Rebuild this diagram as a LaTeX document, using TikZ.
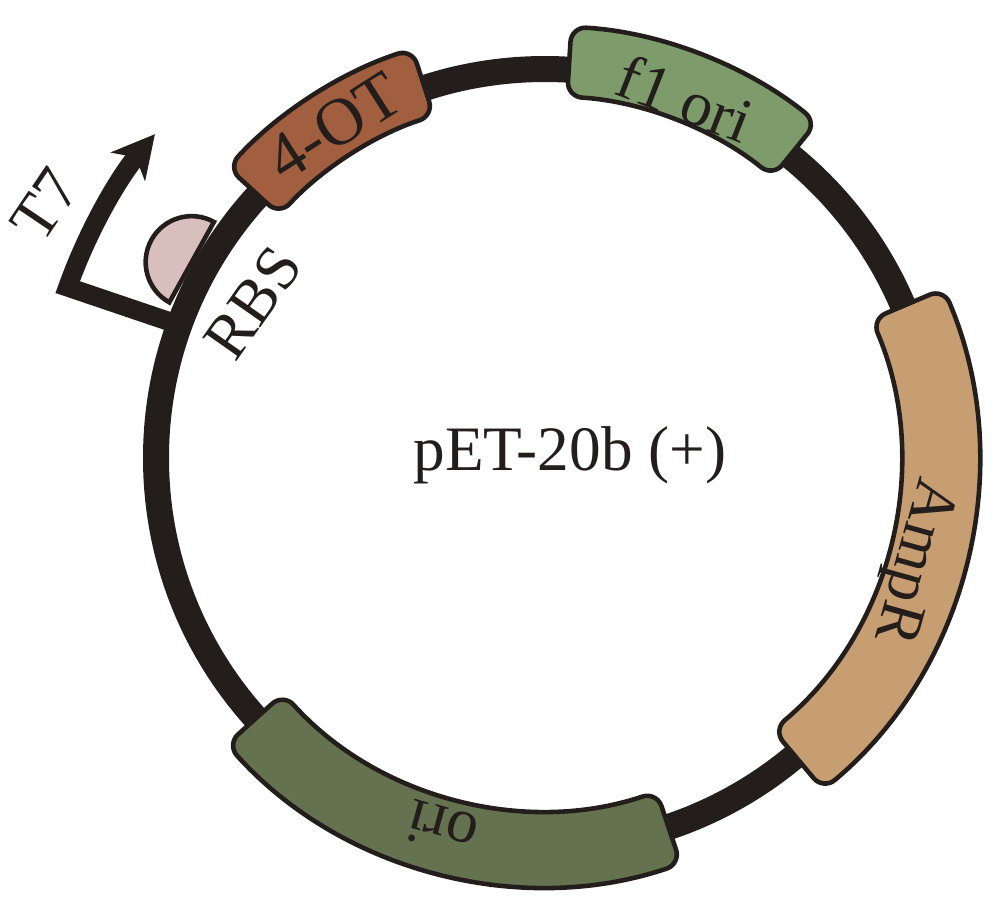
\documentclass[tikz,border=0pt]{standalone}
\usepackage{fontspec}
\setmainfont{Liberation Serif}
\usetikzlibrary{arrows.meta}

\definecolor{ringblack}{RGB}{35,30,28}
\definecolor{otbrown}{RGB}{161,95,64}
\definecolor{origreen}{RGB}{126,156,107}
\definecolor{amprtan}{RGB}{198,158,114}
\definecolor{oridark}{RGB}{101,114,79}
\definecolor{rbspink}{RGB}{216,190,188}

\begin{document}
\begin{tikzpicture}

    \tikzstyle{ring} = [line width=0.26cm, draw=ringblack]
    \tikzstyle{gene} = [draw=ringblack, line width=1.3pt, rounded corners=0.15cm]
    \tikzstyle{site} = [draw=ringblack, line width=1.3pt]
    \tikzstyle{promoter} = [line width=0.19cm, draw=ringblack, -{Stealth[length=0.42cm, width=0.44cm, inset=0.12cm]}]
    \tikzstyle{genetext} = [font=\fontsize{18}{21}\selectfont, text=ringblack, inner sep=0pt]

    \useasboundingbox (-5.45,-4.62) rectangle (4.55,4.58);

    \draw[site, fill=rbspink] (151:4.04) ++(61:0.46) arc[start angle=61, end angle=241, radius=0.46] -- cycle;

    \draw[ring] (0,0) circle (3.89);

    \draw[gene, fill=otbrown] (108:3.60) arc[start angle=108, end angle=137.5, radius=3.60] -- (137.5:4.30) arc[start angle=137.5, end angle=108, radius=4.30] -- cycle;
    \draw[gene, fill=origreen] (51:3.62) arc[start angle=51, end angle=86.5, radius=3.62] -- (86.5:4.32) arc[start angle=86.5, end angle=51, radius=4.32] -- cycle;
    \draw[gene, fill=amprtan] (-50:3.55) arc[start angle=-50, end angle=23, radius=3.55] -- (23:4.33) arc[start angle=23, end angle=-50, radius=4.33] -- cycle;
    \draw[gene, fill=oridark] (222:3.52) arc[start angle=222, end angle=288.5, radius=3.52] -- (288.5:4.28) arc[start angle=288.5, end angle=222, radius=4.28] -- cycle;

    \coordinate (t7base) at (160:3.89);
    \coordinate (t7bend) at (160.3:5.07);
    \draw[promoter] (t7base) -- (t7bend) arc[start angle=160.3, end angle=140.3, radius=5.07];

    \node[genetext, font=\fontsize{19}{22}\selectfont, rotate=32.5] (ot) at (122.5:3.93) {4-OT};
    \node[genetext, rotate=-21.3] (fori) at (68.7:3.86) {f1 ori};
    \node[genetext, rotate=-105.6] (ampr) at (-15.6:3.80) {AmpR};
    \node[genetext, rotate=164.4] (ori) at (254.4:3.84) {ori};
    \node[genetext, rotate=55] (rbs) at (-2.92,1.55) {RBS};
    \node[genetext, rotate=56] (t7) at (-5.00,2.53) {T7};
    \node[genetext] (name) at (0.25,0.03) {pET-20b (+)};

\end{tikzpicture}
\end{document}
